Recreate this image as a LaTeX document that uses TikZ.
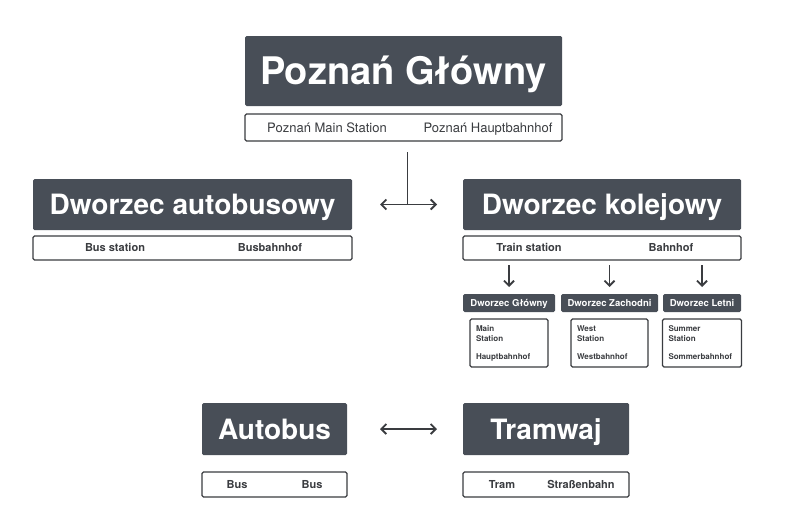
\documentclass[tikz,border=0pt]{standalone}
\usepackage{fontspec}
\setmainfont{TeX Gyre Heros}
\usetikzlibrary{positioning,arrows.meta,calc}
\definecolor{slate}{RGB}{72,78,87}
\definecolor{rim}{RGB}{58,60,64}

\tikzset{
  head/.style={fill=slate, text=white, rounded corners=1.5pt, inner sep=0pt, outer sep=0pt, text depth=0pt},
  bighead/.style={head, font=\bfseries\fontsize{38}{38}\selectfont, text height=27.4pt},
  midhead/.style={head, font=\bfseries\fontsize{28}{28}\selectfont, text height=20.2pt},
  smallhead/.style={head, font=\bfseries\fontsize{9.5}{9.5}\selectfont, text height=6.8pt},
  transbox/.style={draw=rim, line width=1.3pt, fill=white, rounded corners=1.5pt, inner sep=0pt, outer sep=0pt},
  transtext/.style={text=rim, font=\bfseries\fontsize{11}{11}\selectfont, inner sep=0pt,
    text height=7.9pt, text depth=0pt},
  toptext/.style={transtext, font=\fontsize{13}{13}\selectfont, text height=9.4pt},
  cardbox/.style={transbox, align=left, text=rim, inner xsep=6pt, text width=#1,
    font=\bfseries\fontsize{8}{10}\selectfont},
  link/.style={draw=rim, line width=1.8pt},
}

\begin{document}
\begin{tikzpicture}[x=1pt,y=-1pt,node distance=6pt,>={Straight Barb[length=5pt,width=10pt]}]
\useasboundingbox (0,0) rectangle (800,517);
% main station
\node[bighead, minimum width=317pt, minimum height=70pt] (glowny) at (403.5,71) {Poznań Główny};
\node[transbox, minimum width=317pt, minimum height=27pt, below=8pt of glowny] (glownysub) {};
\node[toptext] at ([xshift=-76.5pt]glownysub.center) {Poznań Main Station};
\node[toptext] at ([xshift=84.5pt]glownysub.center) {Poznań Hauptbahnhof};

% bus and train stations
\node[midhead, minimum width=319pt, minimum height=51pt] (autobusowy) at (192.5,204.5) {Dworzec autobusowy};
\node[transbox, minimum width=319pt, minimum height=24pt, below=of autobusowy] (autobusowysub) {};
\node[transtext] at ([xshift=-77.5pt]autobusowysub.center) {Bus station};
\node[transtext] at ([xshift=77.5pt]autobusowysub.center) {Busbahnhof};

\node[midhead, minimum width=278pt, minimum height=51pt] (kolejowy) at (602,204.5) {Dworzec kolejowy};
\node[transbox, minimum width=278pt, minimum height=24pt, below=of kolejowy] (kolejowysub) {};
\node[transtext] at ([xshift=-73pt]kolejowysub.center) {Train station};
\node[transtext] at ([xshift=69pt]kolejowysub.center) {Bahnhof};

% platforms
\node[smallhead, minimum width=92pt, minimum height=18pt] (dglowny) at (509,303) {Dworzec Główny};
\node[smallhead, minimum width=97pt, minimum height=18pt] (dzachodni) at (609.5,303) {Dworzec Zachodni};
\node[smallhead, minimum width=78pt, minimum height=18pt] (dletni) at (702,303) {Dworzec Letni};
\node[cardbox=66pt, minimum height=48pt, below=7pt of dglowny] (dglownysub) {Main\\Station\\[8pt]Hauptbahnhof};
\node[cardbox=65pt, minimum height=48pt, below=7pt of dzachodni] (dzachodnisub) {West\\Station\\[8pt]Westbahnhof};
\node[cardbox=67pt, minimum height=48pt, below=7pt of dletni] (dletnisub) {Summer\\Station\\[8pt]Sommerbahnhof};

% bus and tram
\node[midhead, minimum width=145pt, minimum height=52pt] (autobus) at (274.5,429) {Autobus};
\node[transbox, minimum width=145pt, minimum height=25pt, below=17pt of autobus] (autobussub) {};
\node[transtext] at ([xshift=-37.5pt]autobussub.center) {Bus};
\node[transtext] at ([xshift=37.5pt]autobussub.center) {Bus};

\node[midhead, minimum width=166pt, minimum height=52pt] (tramwaj) at (546,429) {Tramwaj};
\node[transbox, minimum width=166pt, minimum height=25pt, below=17pt of tramwaj] (tramwajsub) {};
\node[transtext] at ([xshift=-44pt]tramwajsub.center) {Tram};
\node[transtext] at ([xshift=35pt]tramwajsub.center) {Straßenbahn};

% connectors
\coordinate (junction) at ($(autobusowy.east)!0.5!(kolejowy.west)$);
\draw[link, shorten <=11pt] (junction |- glownysub.south) -- (junction);
\draw[link, <->, shorten <=28pt, shorten >=26pt] (autobusowy.east) -- (kolejowy.west);
\foreach \stn in {dglowny,dzachodni,dletni}
  \draw[link, ->, shorten <=5pt, shorten >=7pt] (kolejowysub.south -| \stn.north) -- (\stn.north);
\draw[link, <->, shorten <=33pt, shorten >=26pt] (autobus.east) -- (tramwaj.west);
\end{tikzpicture}
\end{document}
